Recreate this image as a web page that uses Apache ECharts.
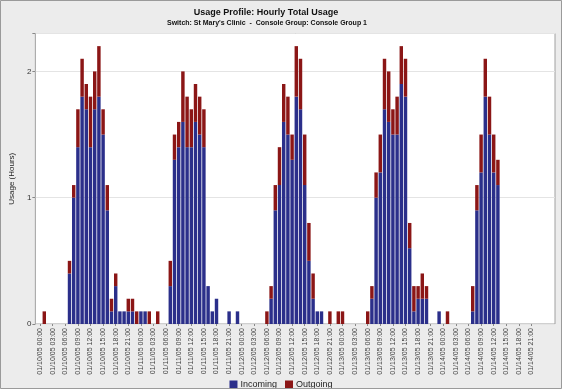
<!DOCTYPE html>
<html><head><meta charset="utf-8">
<script src="https://cdn.jsdelivr.net/npm/echarts@6/dist/echarts.min.js"></script>
<style>html,body{margin:0;padding:0;background:#ececec}#c{width:562px;height:389px}</style>
</head><body><div id="c"></div>
<script>
const days = ['01/10/05','01/11/05','01/12/05','01/13/05','01/14/05'];
const hours = ['00:00','01:00','02:00','03:00','04:00','05:00','06:00','07:00','08:00','09:00','10:00','11:00',
               '12:00','13:00','14:00','15:00','16:00','17:00','18:00','19:00','20:00','21:00','22:00','23:00'];
const yTicks = [0, 1, 2];

const incoming = [
  0,0,0,0,0,0,0,0.4,1.0,1.4,1.8,1.7,1.4,1.7,1.8,1.5,0.9,0.1,0.3,0.1,0.1,0.1,0.1,0,
  0.1,0.1,0,0,0,0,0,0.3,1.3,1.4,1.6,1.4,1.4,1.6,1.5,1.4,0.3,0.1,0.2,0,0,0.1,0,0.1,
  0,0,0,0,0,0,0,0.2,0.9,1.1,1.6,1.5,1.3,1.8,1.7,1.1,0.5,0.2,0.1,0.1,0,0,0,0,
  0,0,0,0,0,0,0,0.2,1.0,1.2,1.7,1.6,1.5,1.5,1.9,1.8,0.6,0.1,0.2,0.2,0.2,0,0,0.1,
  0,0,0,0,0,0,0,0.1,0.9,1.2,1.8,1.5,1.2,1.1,0,0,0,0,0,0,0,0,0,0
];
const outgoing = [
  0,0.1,0,0,0,0,0,0.1,0.1,0.3,0.3,0.2,0.4,0.3,0.4,0.2,0.2,0.1,0.1,0,0,0.1,0.1,0.1,
  0,0,0.1,0,0.1,0,0,0.2,0.2,0.2,0.4,0.4,0.3,0.3,0.3,0.3,0,0,0,0,0,0,0,0,
  0,0,0,0,0,0,0.1,0.1,0.2,0.3,0.3,0.3,0.2,0.4,0.4,0.4,0.3,0.2,0,0,0,0.1,0,0.1,
  0.1,0,0,0,0,0,0.1,0.1,0.2,0.3,0.4,0.4,0.2,0.3,0.3,0.3,0.2,0.2,0.1,0.2,0.1,0,0,0,
  0,0.1,0,0,0,0,0,0.2,0.2,0.3,0.3,0.3,0.3,0.2,0,0,0,0,0,0,0,0,0,0
];
const categories = [];
days.forEach(d => hours.forEach(h => categories.push(d + ' ' + h)));

const FONT = 'Liberation Sans';
const chart = echarts.init(document.getElementById('c'), null, {renderer: 'canvas'});
chart.setOption({
  backgroundColor: '#ececec',
  animation: false,
  textStyle: {fontFamily: FONT},
  title: [
    {text: 'Usage Profile: Hourly Total Usage', left: 261, top: 3, textAlign: 'center',
     textStyle: {fontFamily: FONT, fontSize: 9, fontWeight: 'bold', color: '#111'}},
    {text: "Switch: St Mary's Clinic  -  Console Group: Console Group 1", left: 262, top: 15, textAlign: 'center',
     textStyle: {fontFamily: FONT, fontSize: 7, fontWeight: 'bold', color: '#111'}}
  ],
  legend: {
    data: ['Incoming', 'Outgoing'], left: 'center', top: 375, icon: 'rect',
    itemWidth: 8, itemHeight: 8, itemGap: 8,
    textStyle: {fontFamily: FONT, fontSize: 9, color: '#222', padding: [0, 0, 0, -2]}
  },
  graphic: [{type: 'rect', shape: {x: 0.5, y: 0.5, width: 561, height: 388},
    style: {fill: 'none', stroke: '#9a9a9a', lineWidth: 1}, z: 100}],
  grid: [
    {left: 27, top: 33.5, width: 528, height: 290.5, show: true, backgroundColor: '#fff', borderColor: '#a0a0a0', borderWidth: 1},
    {left: 38, top: 33.5, width: 504, height: 290.5}
  ],
  xAxis: [
    {gridIndex: 0, type: 'value', min: 0, max: 1, show: false},
    {gridIndex: 1, type: 'category', data: categories,
     axisLine: {show: false},
     axisTick: {show: true, interval: 2, length: 2, alignWithLabel: true, lineStyle: {color: '#888'}},
     axisLabel: {interval: 2, rotate: 90, fontSize: 7, color: '#444', margin: 4, fontFamily: FONT}}
  ],
  yAxis: [
    {gridIndex: 0, type: 'value', min: 0, max: 2.3, interval: 1,
     axisLine: {show: false},
     axisTick: {show: true, length: 3, lineStyle: {color: '#888'}},
     axisLabel: {fontSize: 8, color: '#333', margin: 4, fontFamily: FONT,
       formatter: v => yTicks.indexOf(v) >= 0 ? String(v) : ''},
     splitLine: {show: true, lineStyle: {color: '#e4e4e4', width: 1}},
     name: 'Usage (Hours)', nameLocation: 'middle', nameGap: 14,
     nameTextStyle: {fontFamily: FONT, fontSize: 8, color: '#222'}},
    {gridIndex: 1, type: 'value', min: 0, max: 2.3, show: false}
  ],
  series: [
    {name: 'Incoming', type: 'bar', stack: 'total', xAxisIndex: 1, yAxisIndex: 1, data: incoming,
     barCategoryGap: '18%', itemStyle: {color: '#2b2f8a'}},
    {name: 'Outgoing', type: 'bar', stack: 'total', xAxisIndex: 1, yAxisIndex: 1, data: outgoing,
     barCategoryGap: '18%', itemStyle: {color: '#8b1616'}}
  ]
});
</script></body></html>
